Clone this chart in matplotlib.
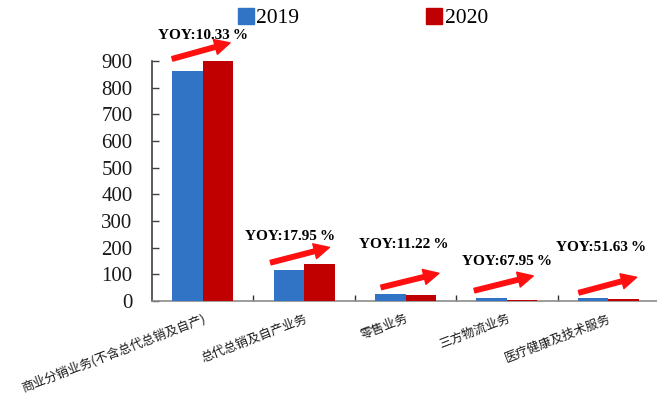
import matplotlib
matplotlib.use('Agg')
import matplotlib.pyplot as plt
import numpy as np
from matplotlib.patches import Patch

categories = [
    '商业分销业务(不含总代总销及自产)',
    '总代总销及自产业务',
    '零售业务',
    '三方物流业务',
    '医疗健康及技术服务',
]
series_names = ['2019', '2020']
values_2019 = [863, 117, 28, 10, 10]
values_2020 = [952, 138, 22, 5, 6]
yoy_pct = [10.33, 17.95, 11.22, 67.95, 51.63]

BLUE = '#3173C4'
RED = '#C00000'
ARROW_RED = '#FF1010'

# Label / arrow placement relative to each category centre (x in category
# units, y in data units).
label_dx = [0.0, -0.14, -0.02, 0.0, -0.07]
label_y = [994, 241, 210, 147, 202]
arrow_tail = [(-0.30, 908), (-0.33, 144), (-0.24, 51), (-0.32, 39), (-0.29, 31)]
arrow_tip = [(0.27, 968), (0.25, 201), (0.33, 104), (0.26, 94), (0.28, 89)]


def main():
    fig = plt.figure(figsize=(6.57, 3.99), dpi=100)
    ax = fig.add_axes([152 / 657, 1 - 301 / 399, 507 / 657, 240 / 399])

    x = np.arange(len(categories))
    width = 0.30
    ax.bar(x - width / 2, values_2019, width, color=BLUE, zorder=3)
    ax.bar(x + width / 2, values_2020, width, color=RED, zorder=3)

    ax.set_xlim(-0.5, len(categories) - 0.5)
    ax.set_ylim(0, 900)
    ax.set_yticks(np.arange(0, 901, 100))

    serif = 'Liberation Serif'
    for lab in ax.get_yticklabels():
        lab.set_fontfamily(serif)
        lab.set_fontsize(15)
        lab.set_color('#1a1a1a')
    ax.tick_params(axis='y', direction='in', length=5, width=1,
                   color='#404040', pad=14)

    # Category labels; tick marks sit on the group boundaries.
    ax.set_xticks(x)
    ax.set_xticklabels(categories, rotation=21, ha='right',
                       rotation_mode='anchor', fontsize=9,
                       family=['Noto Sans CJK SC', 'DejaVu Sans'],
                       color='#1a1a1a')
    ax.tick_params(axis='x', length=0, pad=8)
    ax.set_xticks(np.arange(0.5, len(categories) - 0.5, 1), minor=True)
    ax.tick_params(axis='x', which='minor', direction='in', length=4,
                   width=1, color='#303030')

    for side in ['top', 'right']:
        ax.spines[side].set_visible(False)
    ax.spines['left'].set_color('#404040')
    ax.spines['left'].set_linewidth(1.2)
    ax.spines['bottom'].set_color('#8c8c8c')
    ax.spines['bottom'].set_linewidth(1.2)

    for i, pct in enumerate(yoy_pct):
        ax.text(i + label_dx[i], label_y[i], 'YOY:%.2f\u2009%%' % pct,
                ha='center', va='center', fontsize=11, fontweight='bold',
                family=serif, clip_on=False)
        tx, ty = arrow_tail[i]
        hx, hy = arrow_tip[i]
        ax.annotate('', xy=(i + hx, hy), xytext=(i + tx, ty),
                    annotation_clip=False,
                    arrowprops=dict(
                        arrowstyle='simple,head_length=1.1,head_width=1.1,'
                                   'tail_width=0.33',
                        color=ARROW_RED, mutation_scale=10,
                        shrinkA=0, shrinkB=0))

    handles = [Patch(color=BLUE), Patch(color=RED)]
    fig.legend(handles, series_names, loc='center left',
               bbox_to_anchor=(238 / 657, 1 - 18 / 399), ncol=2,
               frameon=False, prop={'family': serif, 'size': 15.5},
               handlelength=0.75, handleheight=0.75, handletextpad=0.1,
               columnspacing=5.9, borderaxespad=0, borderpad=0)

    fig.savefig('out.png', dpi=100)
    plt.close(fig)


if __name__ == '__main__':
    main()
